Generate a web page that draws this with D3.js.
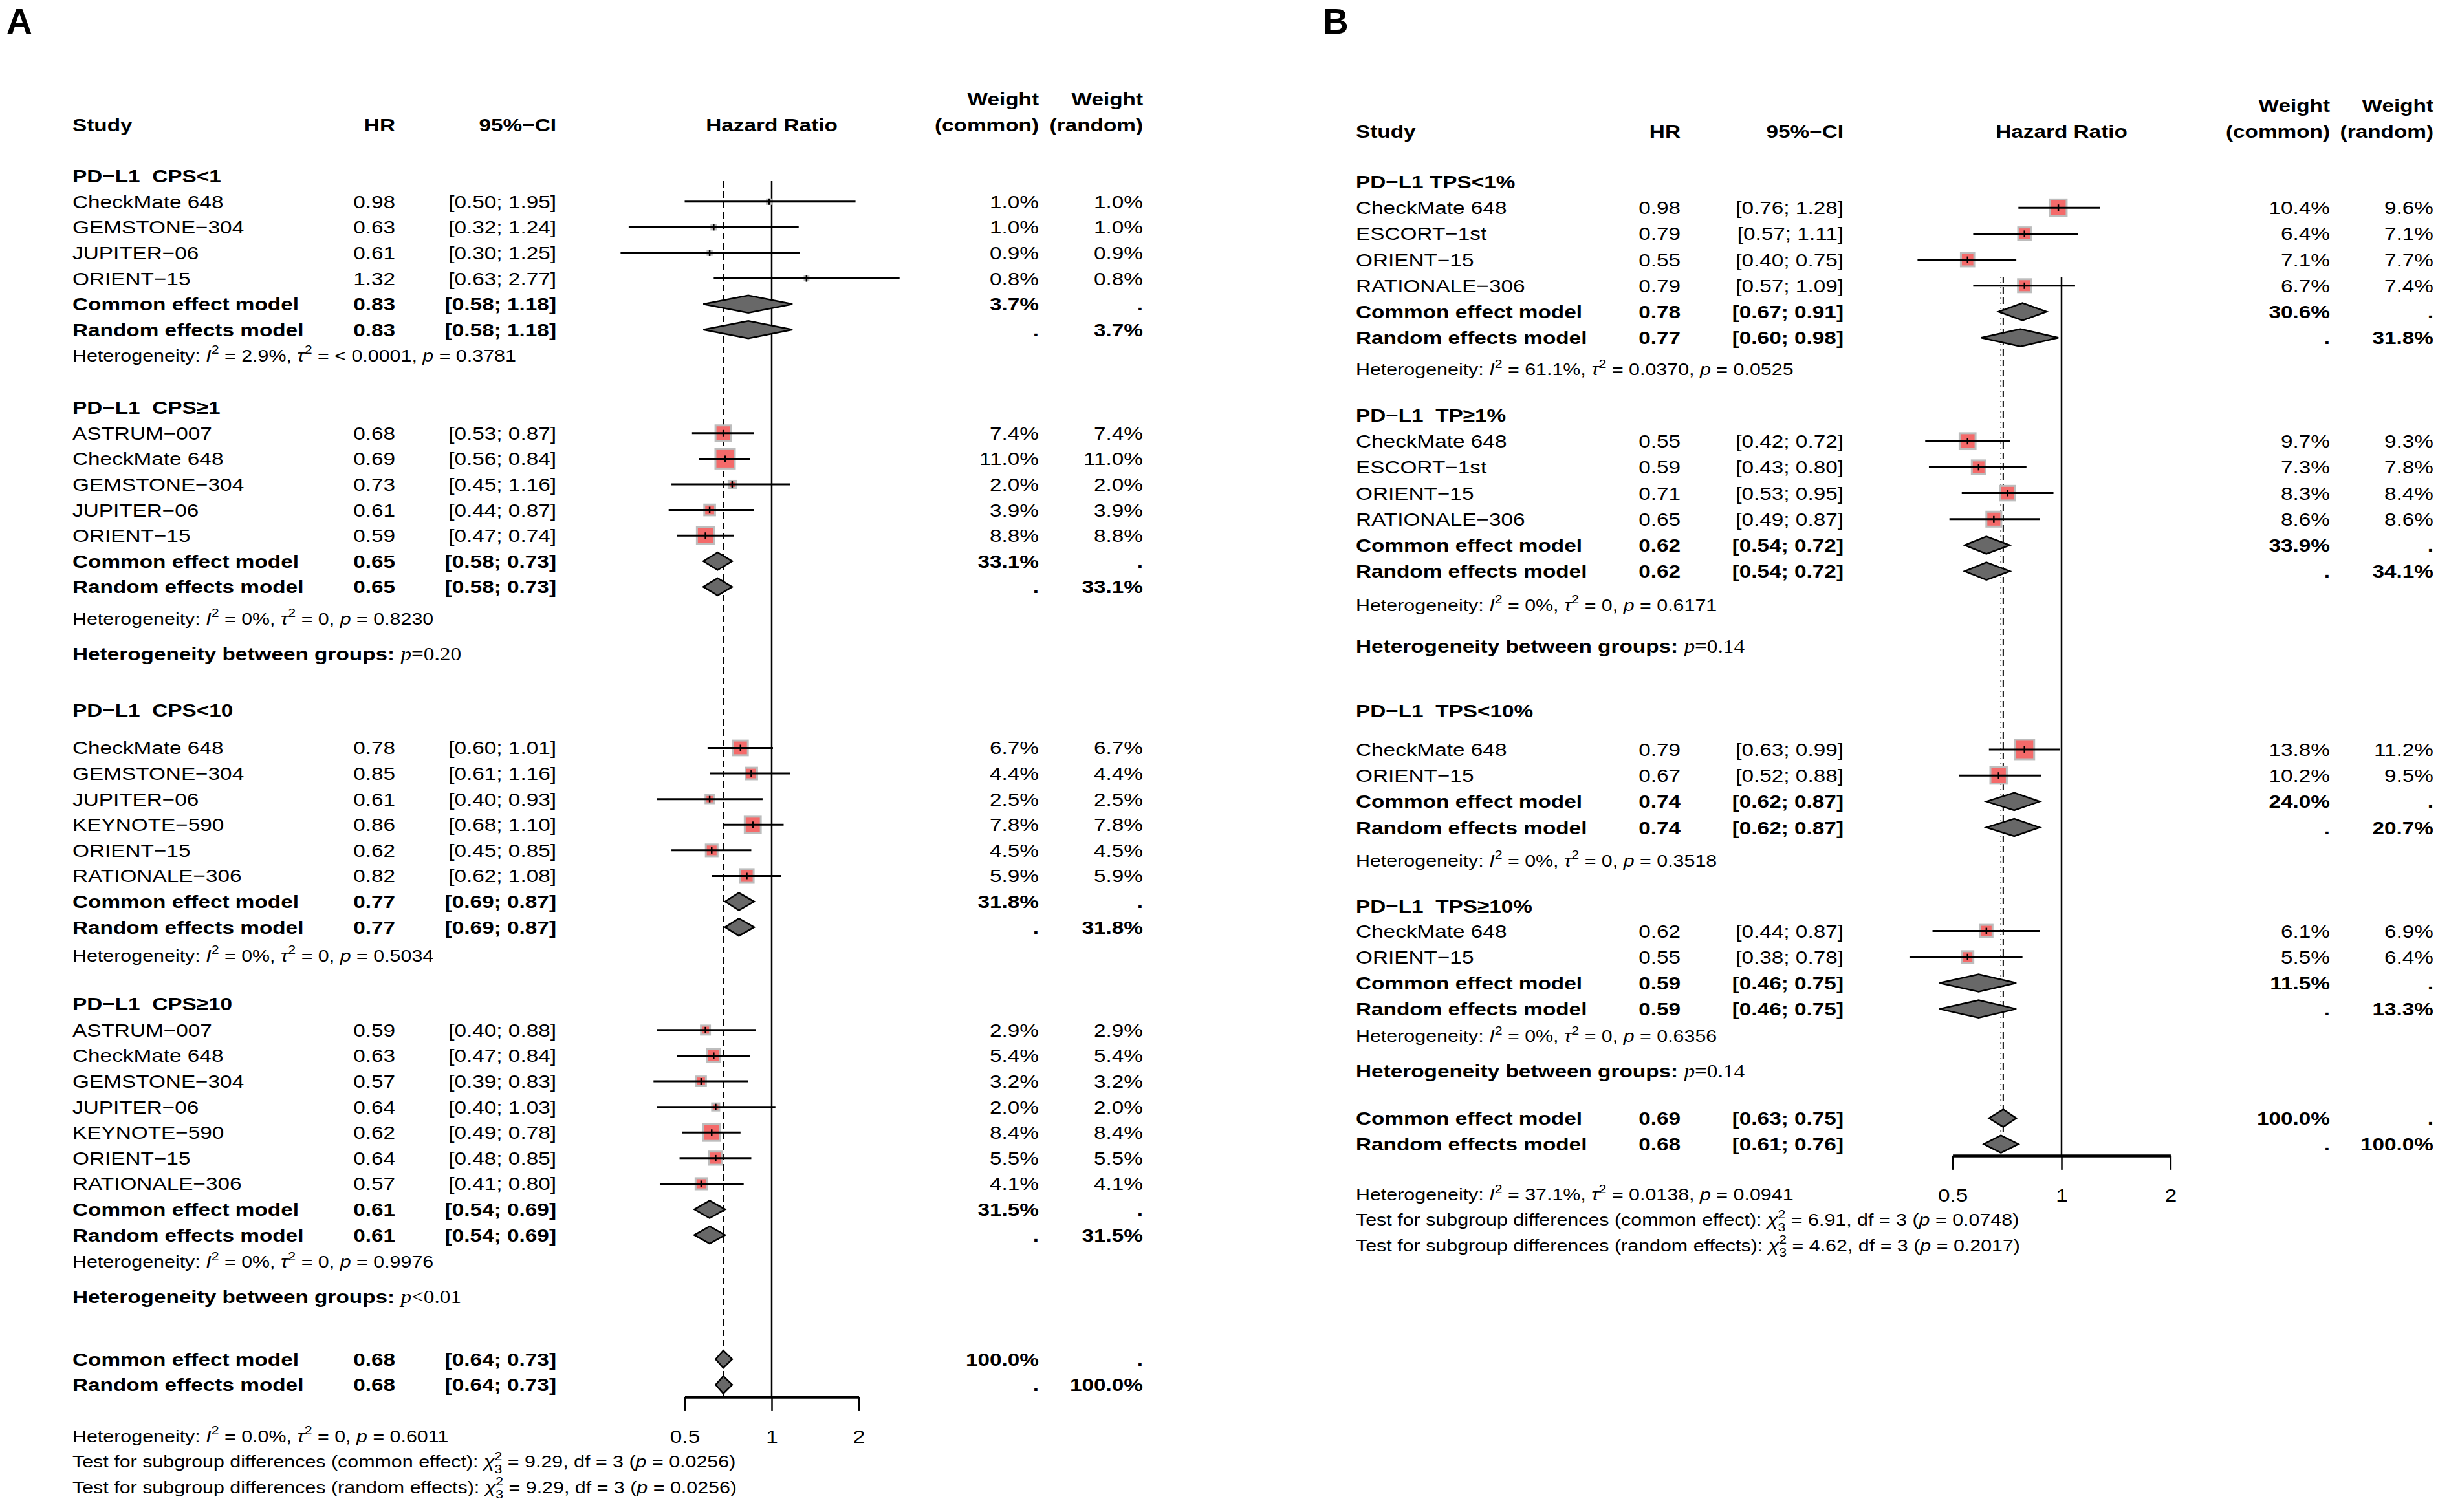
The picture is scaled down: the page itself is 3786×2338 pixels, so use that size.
<!DOCTYPE html>
<html>
<head>
<meta charset="utf-8">
<script src="https://cdn.jsdelivr.net/npm/d3@7"></script>
<style>
  body { margin: 0; background: #fff; }
  text { font-family: "Liberation Sans", Arial, sans-serif; fill: #000; white-space: pre; }
</style>
</head>
<body>
<svg id="chart" width="3786" height="2338"></svg>
<script>
// ---------- panel A : PD-L1 CPS ----------
var aGroups = ["PD−L1  CPS<1", "PD−L1  CPS≥1", "PD−L1  CPS<10", "PD−L1  CPS≥10"];
var aStudy = ["CheckMate 648", "GEMSTONE−304", "JUPITER−06", "ORIENT−15",
  "ASTRUM−007", "CheckMate 648", "GEMSTONE−304", "JUPITER−06", "ORIENT−15",
  "CheckMate 648", "GEMSTONE−304", "JUPITER−06", "KEYNOTE−590", "ORIENT−15", "RATIONALE−306",
  "ASTRUM−007", "CheckMate 648", "GEMSTONE−304", "JUPITER−06", "KEYNOTE−590", "ORIENT−15", "RATIONALE−306"];
var aGroupOf = [0,0,0,0, 1,1,1,1,1, 2,2,2,2,2,2, 3,3,3,3,3,3,3];
var aHR = [0.98,0.63,0.61,1.32, 0.68,0.69,0.73,0.61,0.59, 0.78,0.85,0.61,0.86,0.62,0.82, 0.59,0.63,0.57,0.64,0.62,0.64,0.57];
var aLo = [0.50,0.32,0.30,0.63, 0.53,0.56,0.45,0.44,0.47, 0.60,0.61,0.40,0.68,0.45,0.62, 0.40,0.47,0.39,0.40,0.49,0.48,0.41];
var aHi = [1.95,1.24,1.25,2.77, 0.87,0.84,1.16,0.87,0.74, 1.01,1.16,0.93,1.10,0.85,1.08, 0.88,0.84,0.83,1.03,0.78,0.85,0.80];
var aWc = [1.0,1.0,0.9,0.8, 7.4,11.0,2.0,3.9,8.8, 6.7,4.4,2.5,7.8,4.5,5.9, 2.9,5.4,3.2,2.0,8.4,5.5,4.1];
var aWr = [1.0,1.0,0.9,0.8, 7.4,11.0,2.0,3.9,8.8, 6.7,4.4,2.5,7.8,4.5,5.9, 2.9,5.4,3.2,2.0,8.4,5.5,4.1];
var aComHR = [0.83,0.65,0.77,0.61], aComLo = [0.58,0.58,0.69,0.54], aComHi = [1.18,0.73,0.87,0.69], aComW = [3.7,33.1,31.8,31.5];
var aRanHR = [0.83,0.65,0.77,0.61], aRanLo = [0.58,0.58,0.69,0.54], aRanHi = [1.18,0.73,0.87,0.69], aRanW = [3.7,33.1,31.8,31.5];
var aHetI2 = ["2.9%","0%","0%","0%"], aHetTau2 = ["< 0.0001","0","0","0"], aHetP = ["0.3781","0.8230","0.5034","0.9976"];
var aBetween = [null, "=0.20", null, "<0.01"];
var aAllHR = [0.68,0.68], aAllLo = [0.64,0.64], aAllHi = [0.73,0.73];
var aAllHet = ["0.0%","0","0.6011"];
var aTestChi = ["9.29","9.29"], aTestP = ["0.0256","0.0256"];

// ---------- panel B : PD-L1 TPS ----------
var bGroups = ["PD−L1 TPS<1%", "PD−L1  TP≥1%", "PD−L1  TPS<10%", "PD−L1  TPS≥10%"];
var bStudy = ["CheckMate 648", "ESCORT−1st", "ORIENT−15", "RATIONALE−306",
  "CheckMate 648", "ESCORT−1st", "ORIENT−15", "RATIONALE−306",
  "CheckMate 648", "ORIENT−15", "CheckMate 648", "ORIENT−15"];
var bGroupOf = [0,0,0,0, 1,1,1,1, 2,2, 3,3];
var bHR = [0.98,0.79,0.55,0.79, 0.55,0.59,0.71,0.65, 0.79,0.67, 0.62,0.55];
var bLo = [0.76,0.57,0.40,0.57, 0.42,0.43,0.53,0.49, 0.63,0.52, 0.44,0.38];
var bHi = [1.28,1.11,0.75,1.09, 0.72,0.80,0.95,0.87, 0.99,0.88, 0.87,0.78];
var bWc = [10.4,6.4,7.1,6.7, 9.7,7.3,8.3,8.6, 13.8,10.2, 6.1,5.5];
var bWr = [9.6,7.1,7.7,7.4, 9.3,7.8,8.4,8.6, 11.2,9.5, 6.9,6.4];
var bComHR = [0.78,0.62,0.74,0.59], bComLo = [0.67,0.54,0.62,0.46], bComHi = [0.91,0.72,0.87,0.75], bComW = [30.6,33.9,24.0,11.5];
var bRanHR = [0.77,0.62,0.74,0.59], bRanLo = [0.60,0.54,0.62,0.46], bRanHi = [0.98,0.72,0.87,0.75], bRanW = [31.8,34.1,20.7,13.3];
var bHetI2 = ["61.1%","0%","0%","0%"], bHetTau2 = ["0.0370","0","0","0"], bHetP = ["0.0525","0.6171","0.3518","0.6356"];
var bBetween = [null, "=0.14", null, "=0.14"];
var bAllHR = [0.69,0.68], bAllLo = [0.63,0.61], bAllHi = [0.75,0.76];
var bAllHet = ["37.1%","0.0138","0.0941"];
var bTestChi = ["6.91","4.62"], bTestP = ["0.0748","0.2017"];

var axisTicks = [0.5, 1, 2];

// text in the figure is slightly stretched sideways
var SX = 1.17, FS = 28.5, FSH = 26;
var f2 = d3.format(".2f"), f1 = d3.format(".1f");

var svg = d3.select("#chart");
svg.append("rect").attr("width", 3786).attr("height", 2338).attr("fill", "#fff");

function put(g, x, y, s, o) {
  o = o || {};
  return g.append("text")
    .attr("transform", "translate(" + x + "," + y + ") scale(" + SX + ",1)")
    .attr("dy", "0.35em")
    .attr("text-anchor", o.anchor || "start")
    .style("font-size", (o.size || FS) + "px")
    .style("font-weight", o.bold ? "bold" : null)
    .text(s);
}

function rich(g, x, y, segs, size) {
  var t = g.append("text")
    .attr("transform", "translate(" + x + "," + y + ") scale(" + SX + ",1)")
    .attr("y", 0.35 * size)
    .style("font-size", size + "px");
  var shift = 0;
  segs.forEach(function(s) {
    var ts = t.append("tspan").text(s.t);
    var target = s.sup ? -0.45 * size : s.sub ? 0.32 * size : 0;
    if (target !== shift) { ts.attr("dy", target - shift); shift = target; }
    if (s.sup || s.sub) ts.style("font-size", (0.7 * size) + "px");
    if (s.dx) ts.attr("dx", s.dx * size);
    if (s.i) ts.style("font-style", "italic");
    if (s.b) ts.style("font-weight", "bold");
    if (s.serif) ts.style("font-family", '"Liberation Serif", "Times New Roman", serif');
  });
  return t;
}

function hetSegs(i2, tau, p) {
  return [{t: "Heterogeneity: "}, {t: "I", i: 1}, {t: "2", sup: 1}, {t: " = " + i2 + ", "},
    {t: "τ", i: 1}, {t: "2", sup: 1}, {t: " = " + tau + ", "}, {t: "p", i: 1}, {t: " = " + p}];
}

function diamond(g, x, y, hr, lo, hi) {
  var h = 13.5;
  g.append("path")
    .attr("d", "M" + x(lo) + "," + y + "L" + x(hr) + "," + (y - h) + "L" + x(hi) + "," + y + "L" + x(hr) + "," + (y + h) + "Z")
    .attr("fill", "#686868").attr("stroke", "#000").attr("stroke-width", 2.5);
}

function drawPanel(p) {
  var g = svg.append("g");
  var x = d3.scaleLog().base(2).domain([0.5, 2]).range(p.xRange);
  var y = d3.scaleLinear().domain([0, 1]).range(p.yRange);
  var c = p.cols;
  var wmax = d3.max(p.wc);

  g.append("text").attr("x", p.tag[1]).attr("y", 52)
    .style("font-size", "55px").style("font-weight", "bold").text(p.tag[0]);

  // header
  put(g, c.study, y(0), "Study", {bold: 1});
  put(g, c.hr, y(0), "HR", {bold: 1, anchor: "end"});
  put(g, c.ci, y(0), "95%−CI", {bold: 1, anchor: "end"});
  put(g, x(1), y(0), "Hazard Ratio", {bold: 1, anchor: "middle"});
  put(g, c.wc, y(-1), "Weight", {bold: 1, anchor: "end"});
  put(g, c.wr, y(-1), "Weight", {bold: 1, anchor: "end"});
  put(g, c.wc, y(0), "(common)", {bold: 1, anchor: "end"});
  put(g, c.wr, y(0), "(random)", {bold: 1, anchor: "end"});

  // reference lines
  var yAxis = y(p.axisRow);
  g.append("line").attr("x1", x(1)).attr("x2", x(1)).attr("y1", y(p.refTop)).attr("y2", yAxis)
    .attr("stroke", "#000").attr("stroke-width", 2.5);
  g.append("line").attr("x1", x(p.allHR[0])).attr("x2", x(p.allHR[0])).attr("y1", y(p.refTop)).attr("y2", yAxis)
    .attr("stroke", "#000").attr("stroke-width", 2).attr("stroke-dasharray", "10,6");
  g.append("line").attr("x1", x(p.allHR[1])).attr("x2", x(p.allHR[1])).attr("y1", y(p.refTop)).attr("y2", yAxis)
    .attr("stroke", "#000").attr("stroke-width", 1.5).attr("stroke-dasharray", "2,6");

  var marks = g.append("g");
  p.groups.forEach(function(name, gi) {
    var r = p.headRow[gi];
    put(g, c.study, y(r), name, {bold: 1});
    r += p.firstGap[gi];
    var idx = d3.range(p.study.length).filter(function(i) { return p.groupOf[i] === gi; });
    idx.forEach(function(i, k) {
      var yy = y(r + k);
      var s = 33 * Math.sqrt(p.wc[i] / wmax) - 3;
      marks.append("rect").attr("x", x(p.hr[i]) - s / 2).attr("y", yy - s / 2)
        .attr("width", s).attr("height", s)
        .attr("fill", "#F46A6A").attr("stroke", "#BDBDBD").attr("stroke-width", 3);
      marks.append("line").attr("x1", x(p.lo[i])).attr("x2", x(p.hi[i])).attr("y1", yy).attr("y2", yy)
        .attr("stroke", "#000").attr("stroke-width", 3);
      marks.append("line").attr("x1", x(p.hr[i])).attr("x2", x(p.hr[i])).attr("y1", yy - 5).attr("y2", yy + 5)
        .attr("stroke", "#000").attr("stroke-width", 2.5);
      put(g, c.study, yy, p.study[i]);
      put(g, c.hr, yy, f2(p.hr[i]), {anchor: "end"});
      put(g, c.ci, yy, "[" + f2(p.lo[i]) + "; " + f2(p.hi[i]) + "]", {anchor: "end"});
      put(g, c.wc, yy, f1(p.wc[i]) + "%", {anchor: "end"});
      put(g, c.wr, yy, f1(p.wr[i]) + "%", {anchor: "end"});
    });
    r += idx.length;
    var yc = y(r), yr = y(r + 1);
    diamond(marks, x, yc, p.comHR[gi], p.comLo[gi], p.comHi[gi]);
    diamond(marks, x, yr, p.ranHR[gi], p.ranLo[gi], p.ranHi[gi]);
    put(g, c.study, yc, "Common effect model", {bold: 1});
    put(g, c.hr, yc, f2(p.comHR[gi]), {bold: 1, anchor: "end"});
    put(g, c.ci, yc, "[" + f2(p.comLo[gi]) + "; " + f2(p.comHi[gi]) + "]", {bold: 1, anchor: "end"});
    put(g, c.wc, yc, f1(p.comW[gi]) + "%", {bold: 1, anchor: "end"});
    put(g, c.wr, yc, ".", {bold: 1, anchor: "end"});
    put(g, c.study, yr, "Random effects model", {bold: 1});
    put(g, c.hr, yr, f2(p.ranHR[gi]), {bold: 1, anchor: "end"});
    put(g, c.ci, yr, "[" + f2(p.ranLo[gi]) + "; " + f2(p.ranHi[gi]) + "]", {bold: 1, anchor: "end"});
    put(g, c.wc, yr, ".", {bold: 1, anchor: "end"});
    put(g, c.wr, yr, f1(p.ranW[gi]) + "%", {bold: 1, anchor: "end"});
    r += 1 + p.hetGap[gi];
    rich(g, c.study, y(r), hetSegs(p.hetI2[gi], p.hetTau2[gi], p.hetP[gi]), FSH);
    if (p.between[gi]) {
      rich(g, c.study, y(r + p.betweenGap[gi]), [
        {t: "Heterogeneity between groups: ", b: 1},
        {t: "p", i: 1, serif: 1}, {t: p.between[gi], serif: 1}], FS);
    }
  });

  // overall
  var yc = y(p.overallRow), yr = y(p.overallRow + 1);
  diamond(marks, x, yc, p.allHR[0], p.allLo[0], p.allHi[0]);
  diamond(marks, x, yr, p.allHR[1], p.allLo[1], p.allHi[1]);
  put(g, c.study, yc, "Common effect model", {bold: 1});
  put(g, c.hr, yc, f2(p.allHR[0]), {bold: 1, anchor: "end"});
  put(g, c.ci, yc, "[" + f2(p.allLo[0]) + "; " + f2(p.allHi[0]) + "]", {bold: 1, anchor: "end"});
  put(g, c.wc, yc, "100.0%", {bold: 1, anchor: "end"});
  put(g, c.wr, yc, ".", {bold: 1, anchor: "end"});
  put(g, c.study, yr, "Random effects model", {bold: 1});
  put(g, c.hr, yr, f2(p.allHR[1]), {bold: 1, anchor: "end"});
  put(g, c.ci, yr, "[" + f2(p.allLo[1]) + "; " + f2(p.allHi[1]) + "]", {bold: 1, anchor: "end"});
  put(g, c.wc, yr, ".", {bold: 1, anchor: "end"});
  put(g, c.wr, yr, "100.0%", {bold: 1, anchor: "end"});

  // axis
  var ax = g.append("g").attr("transform", "translate(0," + yAxis + ")")
    .call(d3.axisBottom(x).tickValues(axisTicks).tickFormat(d3.format("")).tickSize(22).tickSizeOuter(0).tickPadding(29));
  ax.select(".domain").attr("stroke-width", 4.5);
  ax.selectAll(".tick line").attr("stroke-width", 2.5);
  ax.selectAll(".tick text").attr("transform", "scale(" + SX + ",1)")
    .style("font-size", FS + "px").style("font-family", '"Liberation Sans", Arial, sans-serif');

  // bottom statistics
  rich(g, c.study, y(p.bottomRows[0]), hetSegs(p.allHet[0], p.allHet[1], p.allHet[2]), FSH);
  ["common effect", "random effects"].forEach(function(lab, k) {
    rich(g, c.study, y(p.bottomRows[k + 1]), [
      {t: "Test for subgroup differences (" + lab + "): "},
      {t: "χ", i: 1}, {t: "2", sup: 1}, {t: "3", sub: 1, dx: -0.39},
      {t: " = " + p.testChi[k] + ", df = 3 ("}, {t: "p", i: 1}, {t: " = " + p.testP[k] + ")"}], FSH);
  });
}

drawPanel({
  tag: ["A", 10], xRange: [1058.5, 1327.5], yRange: [193, 232.6],
  cols: {study: 112, hr: 611, ci: 860, wc: 1606, wr: 1767},
  headRow: [2, 11.04, 22.85, 34.33], firstGap: [1, 1, 1.48, 1.02], hetGap: [1, 1.25, 1.12, 1.05],
  betweenGap: [0, 1.36, 0, 1.36], overallRow: 48.2, axisRow: 49.67, refTop: 2.2, bottomRows: [51.2, 52.2, 53.2],
  groups: aGroups, study: aStudy, groupOf: aGroupOf, hr: aHR, lo: aLo, hi: aHi, wc: aWc, wr: aWr,
  comHR: aComHR, comLo: aComLo, comHi: aComHi, comW: aComW,
  ranHR: aRanHR, ranLo: aRanLo, ranHi: aRanHi, ranW: aRanW,
  hetI2: aHetI2, hetTau2: aHetTau2, hetP: aHetP, between: aBetween,
  allHR: aAllHR, allLo: aAllLo, allHi: aAllHi, allHet: aAllHet, testChi: aTestChi, testP: aTestP
});

drawPanel({
  tag: ["B", 2045], xRange: [3018.6, 3355.4], yRange: [203, 243.2],
  cols: {study: 2096, hr: 2598, ci: 2850, wc: 3602, wr: 3762},
  headRow: [1.94, 10.92, 22.29, 29.79], firstGap: [1, 1, 1.49, 0.97], hetGap: [1.22, 1.31, 1.28, 1.05],
  betweenGap: [0, 1.57, 0, 1.34], overallRow: 37.96, axisRow: 39.4, refTop: 5.6, bottomRows: [40.9, 41.87, 42.86],
  groups: bGroups, study: bStudy, groupOf: bGroupOf, hr: bHR, lo: bLo, hi: bHi, wc: bWc, wr: bWr,
  comHR: bComHR, comLo: bComLo, comHi: bComHi, comW: bComW,
  ranHR: bRanHR, ranLo: bRanLo, ranHi: bRanHi, ranW: bRanW,
  hetI2: bHetI2, hetTau2: bHetTau2, hetP: bHetP, between: bBetween,
  allHR: bAllHR, allLo: bAllLo, allHi: bAllHi, allHet: bAllHet, testChi: bTestChi, testP: bTestP
});
</script>
</body>
</html>
